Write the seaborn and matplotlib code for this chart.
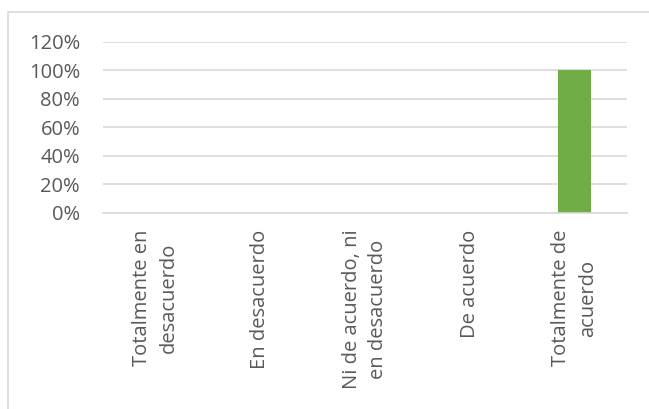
import numpy as np
import pandas as pd
import seaborn as sns
import matplotlib.pyplot as plt
from matplotlib.patches import Rectangle
from matplotlib.ticker import PercentFormatter

# DATA
categorias = ["Totalmente en\ndesacuerdo", "En desacuerdo",
              "Ni de acuerdo, ni\nen desacuerdo", "De acuerdo",
              "Totalmente de\nacuerdo"]
porcentajes = [0.0, 0.0, 0.0, 0.0, 1.0]
y_ticks = [0, 0.2, 0.4, 0.6, 0.8, 1.0, 1.2]

data = pd.DataFrame({"categoria": categorias, "valor": porcentajes})

sns.set_theme(style="white")
plt.rcParams['font.family'] = ['Open Sans', 'DejaVu Sans']

W, H = 649, 409
fig = plt.figure(figsize=(W / 100, H / 100), dpi=100)
ax = fig.add_axes([103 / W, 1 - 212.5 / H, 524 / W, 170.5 / H])

sns.barplot(data=data, x="categoria", y="valor", color="#70AD47",
            saturation=1, width=0.315, linewidth=0, ax=ax)

ax.set_ylim(0, 1.2)
ax.set_yticks(y_ticks)
ax.yaxis.set_major_formatter(PercentFormatter(1.0, decimals=0))
ax.set_xlabel("")
ax.set_ylabel("")

# gridlines Excel-like
ax.yaxis.grid(True, color="#D9D9D9", linewidth=1.2)
ax.set_axisbelow(True)
for s in ["top", "right", "left"]:
    ax.spines[s].set_visible(False)
ax.spines["bottom"].set_color("#D9D9D9")
ax.spines["bottom"].set_linewidth(1.2)

ax.tick_params(axis="both", length=0, colors="#595959", labelsize=14.5)
ax.tick_params(axis="x", pad=12.5)
ax.tick_params(axis="y", pad=16.5)
for lbl in ax.get_xticklabels():
    lbl.set_rotation(90)
    lbl.set_multialignment("center")
    lbl.set_linespacing(1.45)

# chart border (top and left edges visible, rest runs off the image)
fig.patches.append(Rectangle((8 / W, -0.1), 1.2, 1.1 - 12 / H,
                             transform=fig.transFigure, fill=False,
                             edgecolor="#D9D9D9", linewidth=1.2))

fig.savefig("out.png", dpi=100)
